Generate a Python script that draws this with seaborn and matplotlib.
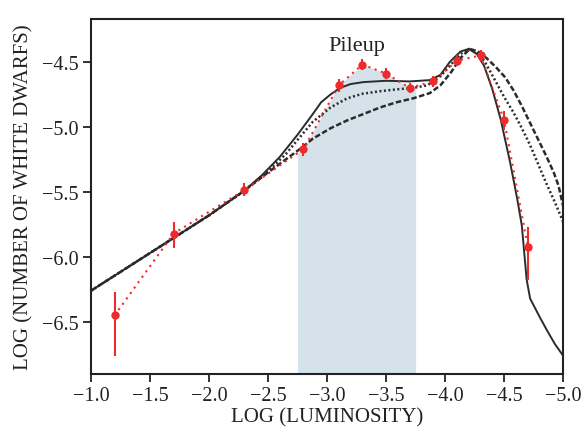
import numpy as np
import matplotlib
matplotlib.use("Agg")
import matplotlib.pyplot as plt
import seaborn as sns

# model curves
solid_x = [-1.0, -1.5, -2.0, -2.3, -2.45, -2.6, -2.75, -2.88, -2.95, -3.03, -3.11, -3.2, -3.31, -3.5,
           -3.7, -3.87, -3.96, -4.04, -4.13, -4.2, -4.27, -4.33, -4.4, -4.47, -4.55, -4.61, -4.65,
           -4.69, -4.72, -4.8, -4.86, -4.93, -5.0]
solid_y = [-6.26, -5.97, -5.68, -5.49, -5.37, -5.23, -5.06, -4.90, -4.81, -4.75, -4.70, -4.67, -4.655, -4.645,
           -4.65, -4.64, -4.60, -4.50, -4.42, -4.40, -4.44, -4.53, -4.71, -4.94, -5.27, -5.55, -5.76,
           -6.17, -6.32, -6.46, -6.56, -6.67, -6.76]

dotted_x = [-1.0, -1.5, -2.0, -2.3, -2.5, -2.65, -2.75, -2.88, -3.03, -3.17, -3.3, -3.45, -3.6, -3.73,
            -3.85, -3.96, -4.05, -4.13, -4.2, -4.27, -4.33, -4.38, -4.44, -4.5, -4.58, -4.65, -4.72,
            -4.79, -4.86, -4.93, -5.0]
dotted_y = [-6.26, -5.97, -5.68, -5.49, -5.34, -5.21, -5.10, -4.96, -4.85, -4.78, -4.745, -4.725, -4.71, -4.70,
            -4.68, -4.61, -4.52, -4.44, -4.40, -4.43, -4.49, -4.57, -4.67, -4.77, -4.89, -5.01, -5.14,
            -5.29, -5.44, -5.58, -5.73]

dashed_x = [-1.0, -1.5, -2.0, -2.3, -2.5, -2.65, -2.77, -2.88, -3.03, -3.17, -3.31, -3.45, -3.59, -3.73,
            -3.87, -3.96, -4.05, -4.13, -4.21, -4.28, -4.35, -4.43, -4.51, -4.58, -4.65, -4.72, -4.79,
            -4.86, -4.92, -4.96, -5.0]
dashed_y = [-6.26, -5.97, -5.68, -5.49, -5.35, -5.25, -5.17, -5.09, -5.01, -4.95, -4.90, -4.85, -4.81, -4.78,
            -4.74, -4.68, -4.58, -4.47, -4.40, -4.42, -4.47, -4.54, -4.62, -4.72, -4.84, -4.97, -5.10,
            -5.23, -5.35, -5.45, -5.61]

# observed counts with error bars
obs_x = [-1.2, -1.7, -2.3, -2.8, -3.1, -3.3, -3.5, -3.7, -3.9, -4.1, -4.3, -4.5, -4.7]
obs_y = [-6.45, -5.82, -5.485, -5.17, -4.68, -4.52, -4.59, -4.70, -4.65, -4.49, -4.45, -4.95, -5.92]
err_lo = [0.31, 0.11, 0.05, 0.05, 0.05, 0.04, 0.04, 0.04, 0.04, 0.04, 0.04, 0.07, 0.26]
err_hi = [0.18, 0.09, 0.05, 0.05, 0.05, 0.04, 0.04, 0.04, 0.04, 0.04, 0.04, 0.07, 0.15]

pileup = (-2.75, -3.75)

sns.set_theme(style="ticks")
plt.rcParams['font.family'] = ['Liberation Serif', 'DejaVu Serif']

fig = plt.figure(figsize=(5.83, 4.35), dpi=100)
ax = fig.add_axes([0.156, 0.138, 0.81, 0.816])

# shade the pileup band under the observed curve
ox = np.array(obs_x)
oy = np.array(obs_y)
inside = (ox < pileup[0]) & (ox > pileup[1])
fx = np.concatenate([[pileup[0]], ox[inside], [pileup[1]]])
fy_edges = np.interp([-pileup[0], -pileup[1]], -ox, oy)
fy = np.concatenate([[fy_edges[0]], oy[inside], [fy_edges[1]]])
ax.fill_between(fx, -7.0, fy, color='#d6e2ea', lw=0, zorder=0)

black = '#2b2b2b'
sns.lineplot(x=solid_x, y=solid_y, ax=ax, color=black, lw=1.4, sort=False)
sns.lineplot(x=dotted_x, y=dotted_y, ax=ax, color=black, lw=1.8, sort=False, linestyle=(0, (0.8, 1.0)))
sns.lineplot(x=dashed_x, y=dashed_y, ax=ax, color=black, lw=1.8, sort=False, linestyle=(0, (2.2, 1.0)))

red = '#ee2a2a'
sns.lineplot(x=obs_x, y=obs_y, ax=ax, color=red, lw=1.5, sort=False, linestyle=(0, (1, 2.2)))
ax.errorbar(obs_x, obs_y, yerr=[err_lo, err_hi], fmt='o', color=red, ms=5, elinewidth=1.5,
            capsize=0, zorder=5)

ax.text(-3.25, -4.37, 'Pileup', fontsize=16, ha='center', va='center', color='#222222')

ax.set_xlim(-1.0, -5.0)
ax.set_ylim(-6.9, -4.17)
ax.set_xticks(np.arange(-1.0, -5.01, -0.5))
ax.set_yticks([-4.5, -5.0, -5.5, -6.0, -6.5])
ax.xaxis.set_major_formatter(matplotlib.ticker.FuncFormatter(lambda v, p: f'\u2212{abs(v):.1f}'))
ax.yaxis.set_major_formatter(matplotlib.ticker.FuncFormatter(lambda v, p: f'\u2212{abs(v):.1f}'))
ax.tick_params(direction='out', length=6, width=1.3, labelsize=14.5, colors='#222222', pad=3)

for s in ax.spines.values():
    s.set_visible(True)
    s.set_linewidth(1.5)
    s.set_color('#222222')

ax.set_xlabel('LOG (LUMINOSITY)', fontsize=15, color='#222222', labelpad=1)
ax.set_ylabel('LOG (NUMBER OF WHITE DWARFS)', fontsize=15, color='#222222', labelpad=6)

fig.savefig('out.png', dpi=100)
